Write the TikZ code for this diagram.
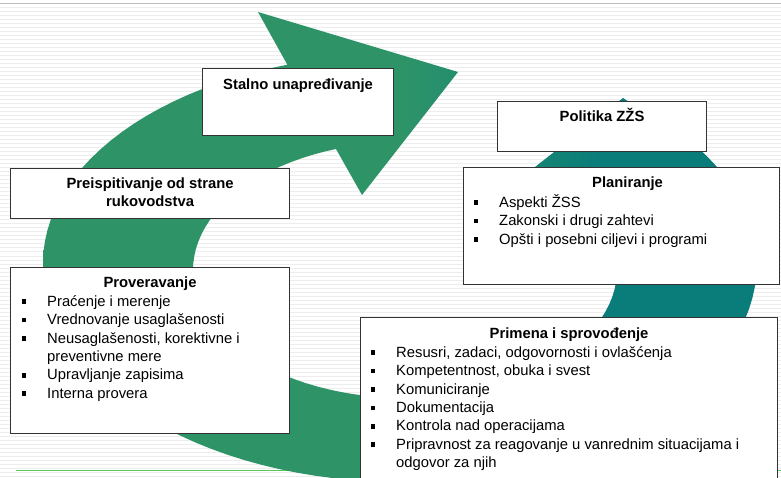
\documentclass[tikz,border=0pt]{standalone}
\usepackage{fontspec}
\setmainfont{Liberation Sans}
\usepackage{tikz}
\usetikzlibrary{calc}

\definecolor{ringA}{RGB}{46,148,104}
\definecolor{ringB}{RGB}{10,125,122}
\definecolor{lineGreen}{RGB}{88,200,90}
\pgfdeclarehorizontalshading{ringshade}{100bp}{color(0bp)=(ringA); color(50bp)=(ringA); color(64bp)=(ringB); color(100bp)=(ringB)}

\newcommand{\blt}{\makebox[25pt][l]{\rule[2.2pt]{4pt}{4.6pt}}}
\newcommand{\topstrut}{\rule{0pt}{16pt}}

\tikzset{
  box/.style={draw=black!80, fill=white, line width=1.1pt, anchor=north west, inner sep=0pt},
  title/.style={font=\fontsize{14.8}{18.4}\selectfont\bfseries, anchor=base, inner sep=0pt},
  list/.style={font=\fontsize{14.8}{18.4}\selectfont, align=left, anchor=north west, inner sep=0pt},
  stripe/.style={black!7, line width=1pt},
  ring/.style={shading=ringshade}
}

\begin{document}
\begin{tikzpicture}[x=1pt,y=-1pt]
\clip (0,0) rectangle (781,478);
\fill[white] (0,0) rectangle (781,478);
\foreach \y in {8,12,...,476}
  \draw[stripe] (0,\y) -- (781,\y);
\draw[black!25, line width=1pt] (0,4) -- (781,4);
\draw[lineGreen, line width=1.3pt] (16,470.5) -- (781,470.5);

% circular arrow
\shade[ring] (623,98)
  -- plot[domain=-35:0, samples=12] ({400+357*cos(\x)},{263+209*sin(\x)})
  -- plot[domain=0:180, samples=60] ({400+357*cos(\x)},{263+219*sin(\x)})
  -- plot[domain=180:251.6, samples=25] ({400+357*cos(\x)},{263+209*sin(\x)})
  -- (258,12) -- (458,72) -- (362,195)
  -- plot[domain=251:-52.7, samples=90] ({405+212*cos(\x)},{270+128*sin(\x)})
  -- cycle;

% boxes
\node[box, minimum width=191, minimum height=67] (stalno) at (202,68) {};
\node[box, minimum width=209, minimum height=50] (politika) at (497,101) {};
\node[box, minimum width=279, minimum height=50] (preisp) at (10,168) {};
\node[box, minimum width=316, minimum height=117] (plan) at (463,167) {};
\node[box, minimum width=279, minimum height=166] (prov) at (10,267) {};
\node[box, minimum width=417, minimum height=180] (prim) at (360,317) {};

% titles
\node[title] (stalnoT) at ($(stalno.north)+(0,22)$) {Stalno unapređivanje};
\node[title] (politikaT) at ($(politika.north)+(0,21)$) {Politika ZŽS};
\node[title, anchor=north, align=center] (preispT) at ($(preisp.north)+(0,4)$)
  {\topstrut Preispitivanje od strane\\ rukovodstva};
\node[title] (planT) at ($(plan.north)+(6,21)$) {Planiranje};
\node[title] (provT) at ($(prov.north)+(0,20)$) {Proveravanje};
\node[title] (primT) at ($(prim.north)+(0,21)$) {Primena i sprovođenje};

% lists
\node[list] (planL) at ($(plan.north west)+(11,24)$)
  {\topstrut\blt Aspekti ŽSS\\
   \blt Zakonski i drugi zahtevi\\
   \blt Opšti i posebni ciljevi i programi};
\node[list] (provL) at ($(prov.north west)+(12,23)$)
  {\topstrut\blt Praćenje i merenje\\
   \blt Vrednovanje usaglašenosti\\
   \blt Neusaglašenosti, korektivne i\\
   \hspace*{25pt}preventivne mere\\
   \blt Upravljanje zapisima\\
   \blt Interna provera};
\node[list] (primL) at ($(prim.north west)+(11,24)$)
  {\topstrut\blt Resusri, zadaci, odgovornosti i ovlašćenja\\
   \blt Kompetentnost, obuka i svest\\
   \blt Komuniciranje\\
   \blt Dokumentacija\\
   \blt Kontrola nad operacijama\\
   \blt Pripravnost za reagovanje u vanrednim situacijama i\\
   \hspace*{25pt}odgovor za njih};
\end{tikzpicture}
\end{document}
